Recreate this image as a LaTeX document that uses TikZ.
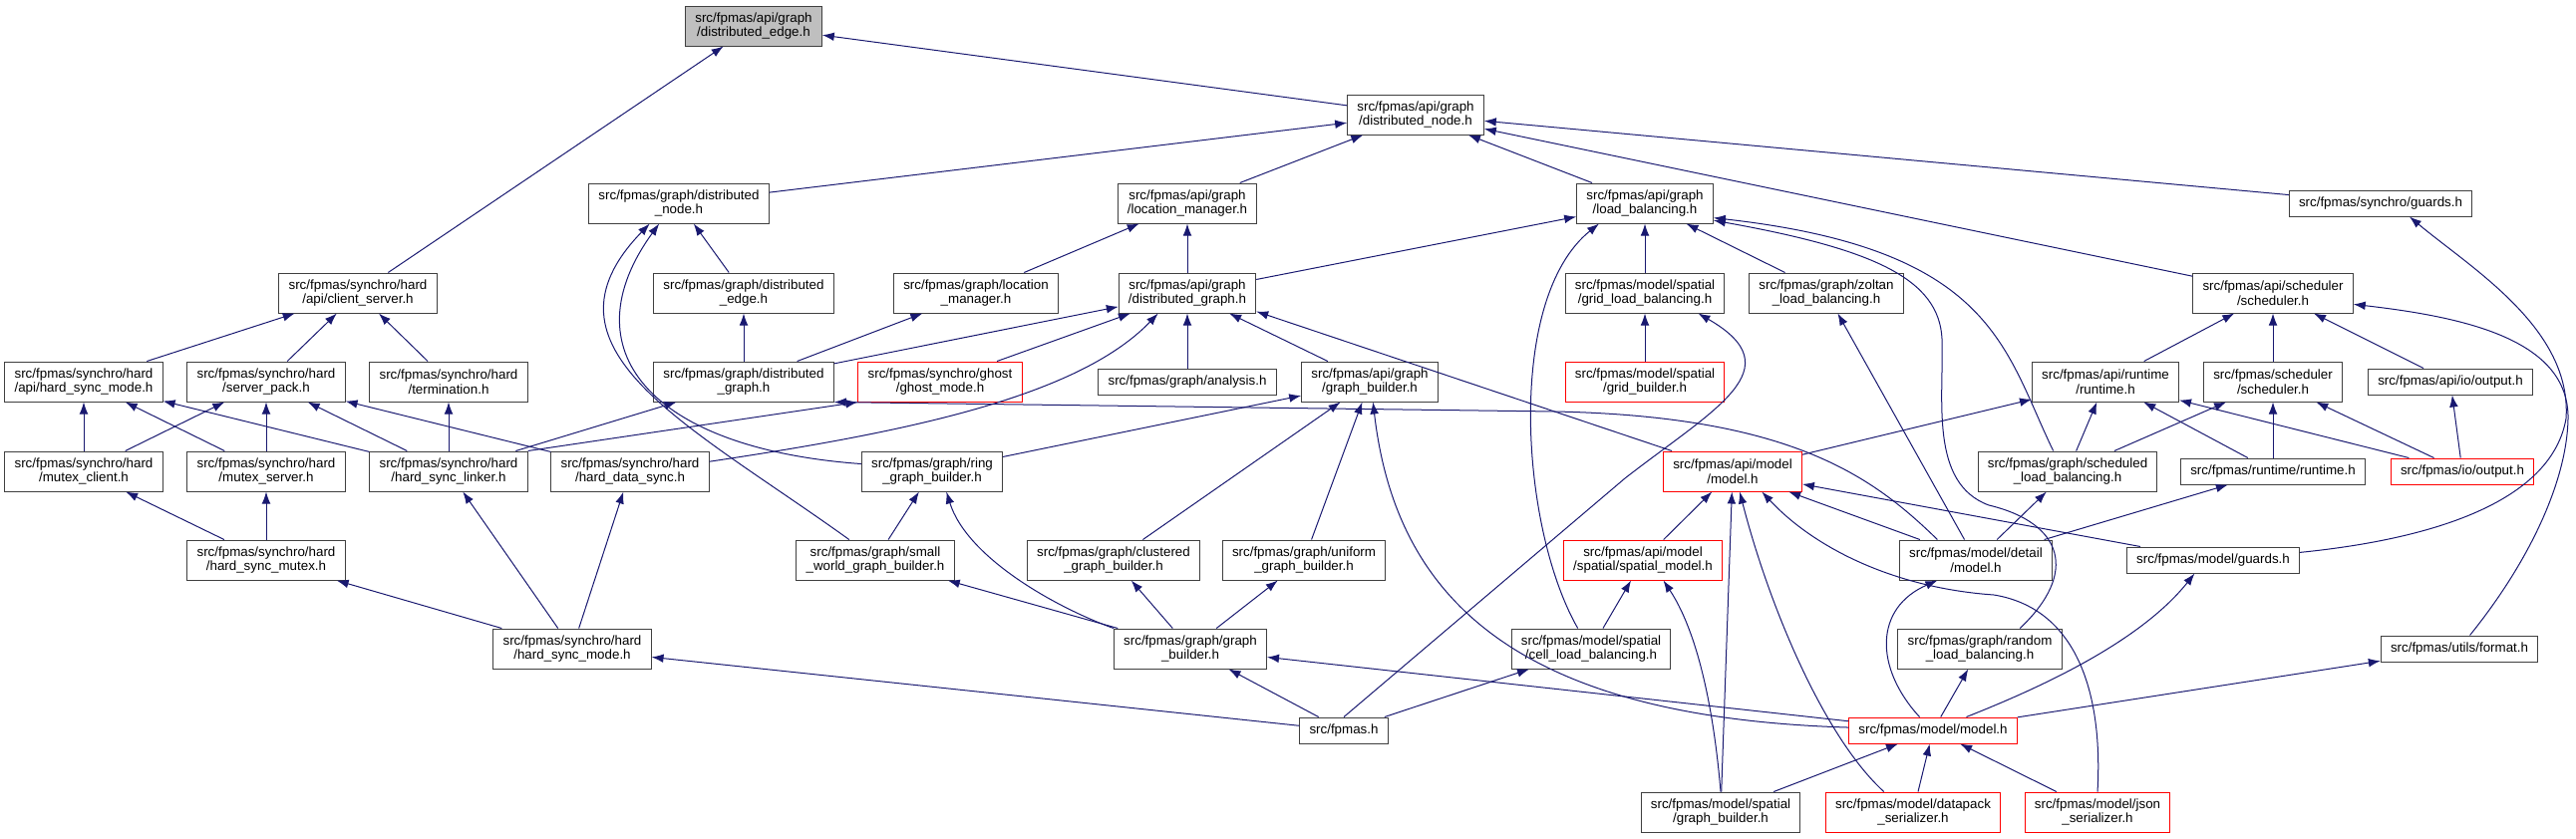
\documentclass[tikz,border=0pt]{standalone}
\usepackage{fontspec}
\setmainfont{Liberation Sans}
\usepackage{tikz}
\usetikzlibrary{arrows.meta}
\definecolor{edgeblue}{HTML}{191970}
\definecolor{boxline}{HTML}{404040}
\definecolor{rootgray}{HTML}{BFBFBF}
\newcommand{\hdrfont}{\fontsize{11.4pt}{12.5pt}\selectfont}
\begin{document}
\begin{tikzpicture}[x=0.3mm,y=-0.3mm,>={Latex[length=3.6mm,width=2.6mm]},
  hdr/.style={draw=boxline,fill=white,line width=0.3mm,align=center,minimum height=12mm,inner xsep=2.9mm,inner ysep=0pt,font=\hdrfont},
  hdr1/.style={hdr,minimum height=7.8mm},
  hdrtrunc/.style={hdr,draw=red},
  hdr1trunc/.style={hdr1,draw=red},
  hdrroot/.style={hdr,fill=rootgray},
  incl/.style={draw=edgeblue,line width=0.3mm,->}]
\useasboundingbox (0,0) rectangle (2584,841);
\node[hdrroot] (root) at (756,26) {src/fpmas/api/graph\\/distributed\_edge.h};
\node[hdr] (dnode) at (1420,115) {src/fpmas/api/graph\\/distributed\_node.h};
\node[hdr] (gnode) at (681,204) {src/fpmas/graph/distributed\\\_node.h};
\node[hdr] (locapi) at (1191,204) {src/fpmas/api/graph\\/location\_manager.h};
\node[hdr] (lbapi) at (1650,204) {src/fpmas/api/graph\\/load\_balancing.h};
\node[hdr1] (sguards) at (2388,204) {src/fpmas/synchro/guards.h};
\node[hdr] (clisrv) at (359,294) {src/fpmas/synchro/hard\\/api/client\_server.h};
\node[hdr] (gedge) at (746,294) {src/fpmas/graph/distributed\\\_edge.h};
\node[hdr] (locmgr) at (979,294) {src/fpmas/graph/location\\\_manager.h};
\node[hdr] (dgapi) at (1191,294) {src/fpmas/api/graph\\/distributed\_graph.h};
\node[hdr] (gridlb) at (1650,294) {src/fpmas/model/spatial\\/grid\_load\_balancing.h};
\node[hdr] (zoltan) at (1832,294) {src/fpmas/graph/zoltan\\\_load\_balancing.h};
\node[hdr] (schedapi) at (2280,294) {src/fpmas/api/scheduler\\/scheduler.h};
\node[hdr] (hsmapi) at (84,383) {src/fpmas/synchro/hard\\/api/hard\_sync\_mode.h};
\node[hdr] (srvpack) at (267,383) {src/fpmas/synchro/hard\\/server\_pack.h};
\node[hdr] (term) at (450,383) {src/fpmas/synchro/hard\\/termination.h};
\node[hdr] (dgraph) at (746,383) {src/fpmas/graph/distributed\\\_graph.h};
\node[hdrtrunc] (ghost) at (943,383) {src/fpmas/synchro/ghost\\/ghost\_mode.h};
\node[hdr1] (analysis) at (1191,383) {src/fpmas/graph/analysis.h};
\node[hdr] (gbapi) at (1374,383) {src/fpmas/api/graph\\/graph\_builder.h};
\node[hdrtrunc] (gridb) at (1650,383) {src/fpmas/model/spatial\\/grid\_builder.h};
\node[hdr] (rtapi) at (2112,383) {src/fpmas/api/runtime\\/runtime.h};
\node[hdr] (sched) at (2280,383) {src/fpmas/scheduler\\/scheduler.h};
\node[hdr1] (outapi) at (2458,383) {src/fpmas/api/io/output.h};
\node[hdr] (mclient) at (84,473) {src/fpmas/synchro/hard\\/mutex\_client.h};
\node[hdr] (mserver) at (267,473) {src/fpmas/synchro/hard\\/mutex\_server.h};
\node[hdr] (linker) at (450,473) {src/fpmas/synchro/hard\\/hard\_sync\_linker.h};
\node[hdr] (datasync) at (632,473) {src/fpmas/synchro/hard\\/hard\_data\_sync.h};
\node[hdr] (ring) at (935,473) {src/fpmas/graph/ring\\\_graph\_builder.h};
\node[hdrtrunc] (modelapi) at (1738,473) {src/fpmas/api/model\\/model.h};
\node[hdr] (schedlb) at (2074,473) {src/fpmas/graph/scheduled\\\_load\_balancing.h};
\node[hdr1] (runtime) at (2280,473) {src/fpmas/runtime/runtime.h};
\node[hdr1trunc] (output) at (2470,473) {src/fpmas/io/output.h};
\node[hdr] (hmutex) at (267,562) {src/fpmas/synchro/hard\\/hard\_sync\_mutex.h};
\node[hdr] (small) at (878,562) {src/fpmas/graph/small\\\_world\_graph\_builder.h};
\node[hdr] (clust) at (1117,562) {src/fpmas/graph/clustered\\\_graph\_builder.h};
\node[hdr] (unif) at (1308,562) {src/fpmas/graph/uniform\\\_graph\_builder.h};
\node[hdrtrunc] (spatapi) at (1648,562) {src/fpmas/api/model\\/spatial/spatial\_model.h};
\node[hdr] (detail) at (1982,562) {src/fpmas/model/detail\\/model.h};
\node[hdr1] (mguards) at (2220,562) {src/fpmas/model/guards.h};
\node[hdr] (hsmode) at (574,651) {src/fpmas/synchro/hard\\/hard\_sync\_mode.h};
\node[hdr] (gbuild) at (1194,651) {src/fpmas/graph/graph\\\_builder.h};
\node[hdr] (celllb) at (1596,651) {src/fpmas/model/spatial\\/cell\_load\_balancing.h};
\node[hdr] (randlb) at (1986,651) {src/fpmas/graph/random\\\_load\_balancing.h};
\node[hdr1] (format) at (2467,651) {src/fpmas/utils/format.h};
\node[hdr1] (fpmas) at (1348,733) {src/fpmas.h};
\node[hdr1trunc] (model) at (1939,733) {src/fpmas/model/model.h};
\node[hdr] (spgb) at (1726,815) {src/fpmas/model/spatial\\/graph\_builder.h};
\node[hdrtrunc] (datapack) at (1919,815) {src/fpmas/model/datapack\\\_serializer.h};
\node[hdrtrunc] (json) at (2104,815) {src/fpmas/model/json\\\_serializer.h};
\draw[incl] (dnode) -- (root);
\draw[incl] (clisrv) -- (root);
\draw[incl] (gnode) -- (dnode);
\draw[incl] (locapi) -- (dnode);
\draw[incl] (lbapi) -- (dnode);
\draw[incl] (sguards) -- (dnode);
\draw[incl] (schedapi) -- (dnode);
\draw[incl] (gedge) -- (gnode);
\draw[incl] (small.142) .. controls (690,425) and (530,350) .. (gnode.215);
\draw[incl] (ring.174) .. controls (650,450) and (570,350) .. (gnode.226);
\draw[incl] (locmgr) -- (locapi);
\draw[incl] (dgapi) -- (locapi);
\draw[incl] (dgapi) -- (lbapi);
\draw[incl] (gridlb) -- (lbapi);
\draw[incl] (zoltan) -- (lbapi);
\draw[incl] (celllb.123) .. controls (1525,530) and (1510,300) .. (lbapi.204);
\draw[incl] (schedlb.125) .. controls (2010,350) and (2000,250) .. (lbapi.-12);
\draw[incl] (randlb.27) .. controls (2085,575) and (2070,525) .. (1995,507) .. controls (1935,485) and (1950,400) .. (1948,340) .. controls (1945,280) and (1880,250) .. (lbapi.-14);
\draw[incl] (hsmapi) -- (clisrv);
\draw[incl] (srvpack) -- (clisrv);
\draw[incl] (term) -- (clisrv);
\draw[incl] (dgraph) -- (gedge);
\draw[incl] (dgraph) -- (locmgr);
\draw[incl] (dgraph) -- (dgapi);
\draw[incl] (ghost) -- (dgapi);
\draw[incl] (analysis) -- (dgapi);
\draw[incl] (gbapi) -- (dgapi);
\draw[incl] (datasync.7) .. controls (900,435) and (1080,400) .. (dgapi.215);
\draw[incl] (modelapi) -- (dgapi.-15);
\draw[incl] (gridb) -- (gridlb);
\draw[incl] (fpmas.north) -- (1630,480) .. controls (1720,410) and (1800,370) .. (gridlb.-21);
\draw[incl] (detail) -- (zoltan);
\draw[incl] (rtapi) -- (schedapi);
\draw[incl] (sched) -- (schedapi);
\draw[incl] (outapi) -- (schedapi);
\draw[incl] (format.52) .. controls (2540,560) and (2575,480) .. (2576,420) .. controls (2577,340) and (2470,318) .. (schedapi.-8);
\draw[incl] (mclient) -- (hsmapi);
\draw[incl] (mserver) -- (hsmapi);
\draw[incl] (linker) -- (hsmapi);
\draw[incl] (mclient) -- (srvpack);
\draw[incl] (mserver) -- (srvpack);
\draw[incl] (linker) -- (srvpack);
\draw[incl] (datasync) -- (srvpack);
\draw[incl] (linker) -- (term);
\draw[incl] (linker) -- (dgraph);
\draw[incl] (detail.152) .. controls (1880,480) and (1800,418) .. (1560,413) -- (dgraph.south east);
\draw[incl] (linker.north east) -- (ghost.south west);
\draw[incl] (ring) -- (gbapi);
\draw[incl] (clust) -- (gbapi);
\draw[incl] (unif) -- (gbapi);
\draw[incl] (model.178) .. controls (1520,720) and (1400,600) .. (gbapi.-81);
\draw[incl] (modelapi) -- (rtapi);
\draw[incl] (schedlb) -- (rtapi);
\draw[incl] (runtime) -- (rtapi);
\draw[incl] (output) -- (rtapi);
\draw[incl] (schedlb) -- (sched);
\draw[incl] (runtime) -- (sched);
\draw[incl] (output) -- (sched);
\draw[incl] (output) -- (outapi);
\draw[incl] (hmutex) -- (mclient);
\draw[incl] (hmutex) -- (mserver);
\draw[incl] (hsmode) -- (linker);
\draw[incl] (hsmode) -- (datasync);
\draw[incl] (small) -- (ring);
\draw[incl] (gbuild.north west) .. controls (1060,610) and (970,560) .. (ring.-55);
\draw[incl] (spatapi) -- (modelapi);
\draw[incl] (detail) -- (modelapi);
\draw[incl] (mguards) -- (modelapi);
\draw[incl] (spgb) -- (modelapi);
\draw[incl] (datapack.145) .. controls (1830,740) and (1775,610) .. (modelapi.-71);
\draw[incl] (json.north) .. controls (2110,690) and (2080,610) .. (2000,597) .. controls (1900,590) and (1820,550) .. (modelapi.-35);
\draw[incl] (detail) -- (schedlb);
\draw[incl] (detail) -- (runtime);
\draw[incl] (hsmode) -- (hmutex);
\draw[incl] (gbuild) -- (small);
\draw[incl] (gbuild) -- (clust);
\draw[incl] (gbuild) -- (unif);
\draw[incl] (celllb) -- (spatapi);
\draw[incl] (spgb.north) .. controls (1718,700) and (1700,630) .. (spatapi.-45);
\draw[incl] (model.135) .. controls (1880,670) and (1880,610) .. (detail.208);
\draw[incl] (model.22) .. controls (2060,685) and (2150,640) .. (mguards.-144);
\draw[incl] (mguards.5) .. controls (2450,540) and (2560,500) .. (2574,420) .. controls (2580,330) and (2480,270) .. (sguards.-25);
\draw[incl] (fpmas) -- (hsmode);
\draw[incl] (fpmas) -- (gbuild);
\draw[incl] (model) -- (gbuild);
\draw[incl] (fpmas) -- (celllb);
\draw[incl] (model) -- (randlb);
\draw[incl] (model) -- (format);
\draw[incl] (spgb) -- (model);
\draw[incl] (datapack) -- (model);
\draw[incl] (json) -- (model);
\end{tikzpicture}
\end{document}
